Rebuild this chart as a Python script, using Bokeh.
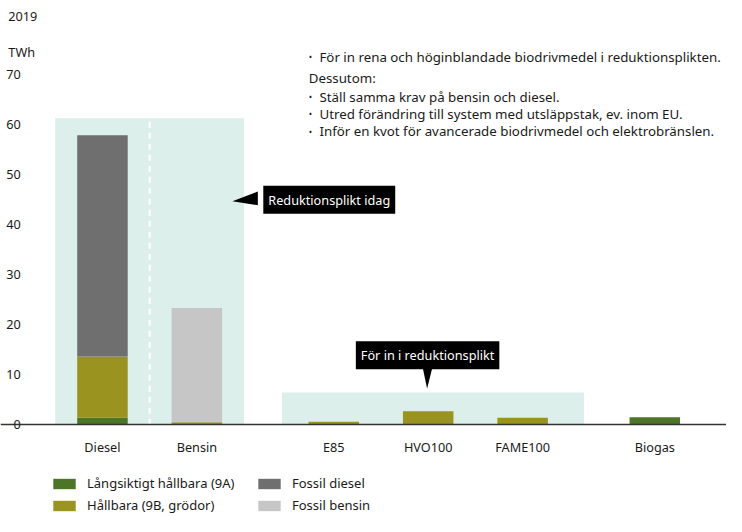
from bokeh.plotting import figure
from bokeh.models import ColumnDataSource, FixedTicker, Label, Legend, LegendItem, Range1d
from bokeh.embed import file_html
from bokeh.resources import INLINE

# ---- data ----
categories = ["Diesel", "Bensin", "E85", "HVO100", "FAME100", "Biogas"]
x_pos = [0, 1, 2.45, 3.45, 4.45, 5.85]
langsiktigt_9a = [1.4, 0.0, 0.0, 0.0, 0.0, 1.5]
hallbara_9b = [12.2, 0.5, 0.6, 2.7, 1.4, 0.0]
fossil_diesel = [44.2, 0.0, 0.0, 0.0, 0.0, 0.0]
fossil_bensin = [0.0, 22.8, 0.0, 0.0, 0.0, 0.0]
series_names = ["Långsiktigt hållbara (9A)", "Hållbara (9B, grödor)", "Fossil diesel", "Fossil bensin"]
y_ticks = [0, 10, 20, 30, 40, 50, 60, 70]

# shaded regions (reduktionsplikt today / proposed)
region_left = [-0.5, 1.9]
region_right = [1.5, 5.1]
region_top = [61.2, 6.4]

notes = [
    ("bullet", "För in rena och höginblandade biodrivmedel i reduktionsplikten."),
    ("plain", "Dessutom:"),
    ("bullet", "Ställ samma krav på bensin och diesel."),
    ("bullet", "Utred förändring till system med utsläppstak, ev. inom EU."),
    ("bullet", "Inför en kvot för avancerade biodrivmedel och elektrobränslen."),
]

colors = ["#4d7527", "#9a9320", "#6f6f6f", "#c6c6c6"]
FONT = "Noto Sans"
TXT = "#1a1a1a"

# layout helpers: reference-pixel -> data (Diesel slot at 104.2 px, 96.5 px per slot;
# zero line at 437.3 px, 5.16 px per TWh)
def dx(px):
    return (px - 104.2) / 96.5

def dy(py):
    return (437.3 - py) / 5.16

p = figure(width=726, height=516, output_backend="svg", toolbar_location=None,
           x_range=Range1d(dx(0), dx(742)), y_range=Range1d(dy(532), dy(0)),
           min_border_left=0, min_border_right=0, min_border_top=0, min_border_bottom=0)
p.outline_line_color = None
p.xgrid.visible = False
p.ygrid.visible = False
p.background_fill_color = "white"
p.border_fill_color = "white"

# shaded regions
p.quad(left=region_left, right=region_right, bottom=[0, 0], top=region_top,
       fill_color="#dcefea", line_color=None)

# dashed separator between Diesel and Bensin
p.segment(x0=[0.5], y0=[0], x1=[0.5], y1=[dy(110)], line_color="white",
          line_width=2, line_dash="6 5")

source = ColumnDataSource(dict(x=x_pos, a9=langsiktigt_9a, b9=hallbara_9b,
                               fd=fossil_diesel, fb=fossil_bensin))
renderers = p.vbar_stack(["a9", "b9", "fd", "fb"], x="x", width=0.535, color=colors,
                         line_color=None, source=source)

# axes (drawn inside the frame)
p.xaxis.fixed_location = 0
p.xaxis.ticker = FixedTicker(ticks=x_pos)
p.xaxis.major_label_overrides = {x: c for x, c in zip(x_pos, categories)}
p.xaxis.major_tick_line_color = None
p.xaxis.minor_tick_line_color = None
p.xaxis.axis_line_color = "#333333"
p.xaxis.axis_line_width = 1.3
p.xaxis.major_label_text_font = FONT
p.xaxis.major_label_text_font_size = "12.7px"
p.xaxis.major_label_text_color = TXT
p.xaxis.major_label_standoff = 7

p.yaxis.fixed_location = dx(34)
p.yaxis.ticker = FixedTicker(ticks=y_ticks)
p.yaxis.axis_line_color = None
p.yaxis.major_tick_line_color = None
p.yaxis.minor_tick_line_color = None
p.yaxis.major_label_text_font = FONT
p.yaxis.major_label_text_font_size = "12.7px"
p.yaxis.major_label_text_color = TXT
p.yaxis.major_label_standoff = 7

# titles
p.add_layout(Label(x=dx(8), y=dy(17), text="2019", text_font=FONT, text_font_size="12.7px",
                   text_baseline="middle", text_color=TXT))
p.add_layout(Label(x=dx(8), y=dy(53), text="TWh", text_font=FONT, text_font_size="12.7px",
                   text_baseline="middle", text_color=TXT))

# notes
note_y = [58, 80, 99, 117, 135]
for (kind, txt), py in zip(notes, note_y):
    if kind == "bullet":
        p.add_layout(Label(x=dx(315), y=dy(py), text="•", text_font=FONT, text_font_size="9px",
                           text_baseline="middle", text_color=TXT))
        p.add_layout(Label(x=dx(326), y=dy(py), text=txt, text_font=FONT, text_font_size="13.3px",
                           text_baseline="middle", text_color=TXT))
    else:
        p.add_layout(Label(x=dx(315), y=dy(py), text=txt, text_font=FONT, text_font_size="13.3px",
                           text_baseline="middle", text_color=TXT))

# callouts
p.patch(x=[dx(263), dx(263), dx(237)], y=[dy(197), dy(211), dy(207)], fill_color="black", line_color=None)
p.add_layout(Label(x=dx(336), y=dy(205.5), text="Reduktionsplikt idag", text_font=FONT,
                   text_font_size="12.7px", text_align="center", text_baseline="middle",
                   text_color="white", background_fill_color="black", padding=5))
p.patch(x=[dx(431), dx(442), dx(436)], y=[dy(376), dy(376), dy(400)], fill_color="black", line_color=None)
p.add_layout(Label(x=dx(436.5), y=dy(365.7), text="För in i reduktionsplikt", text_font=FONT,
                   text_font_size="12.7px", text_align="center", text_baseline="middle",
                   text_color="white", background_fill_color="black", padding=5))

legend = Legend(items=[LegendItem(label=n, renderers=[r]) for n, r in zip(series_names, renderers)],
                orientation="vertical", nrows=2, location=(50, 2),
                label_text_font=FONT, label_text_font_size="13px", label_text_color=TXT,
                glyph_width=28, glyph_height=13, label_standoff=9, label_width=164,
                spacing=4, padding=0, margin=0, border_line_color=None,
                background_fill_alpha=0)
p.add_layout(legend)

open("out.html", "w").write(file_html(p, INLINE))
